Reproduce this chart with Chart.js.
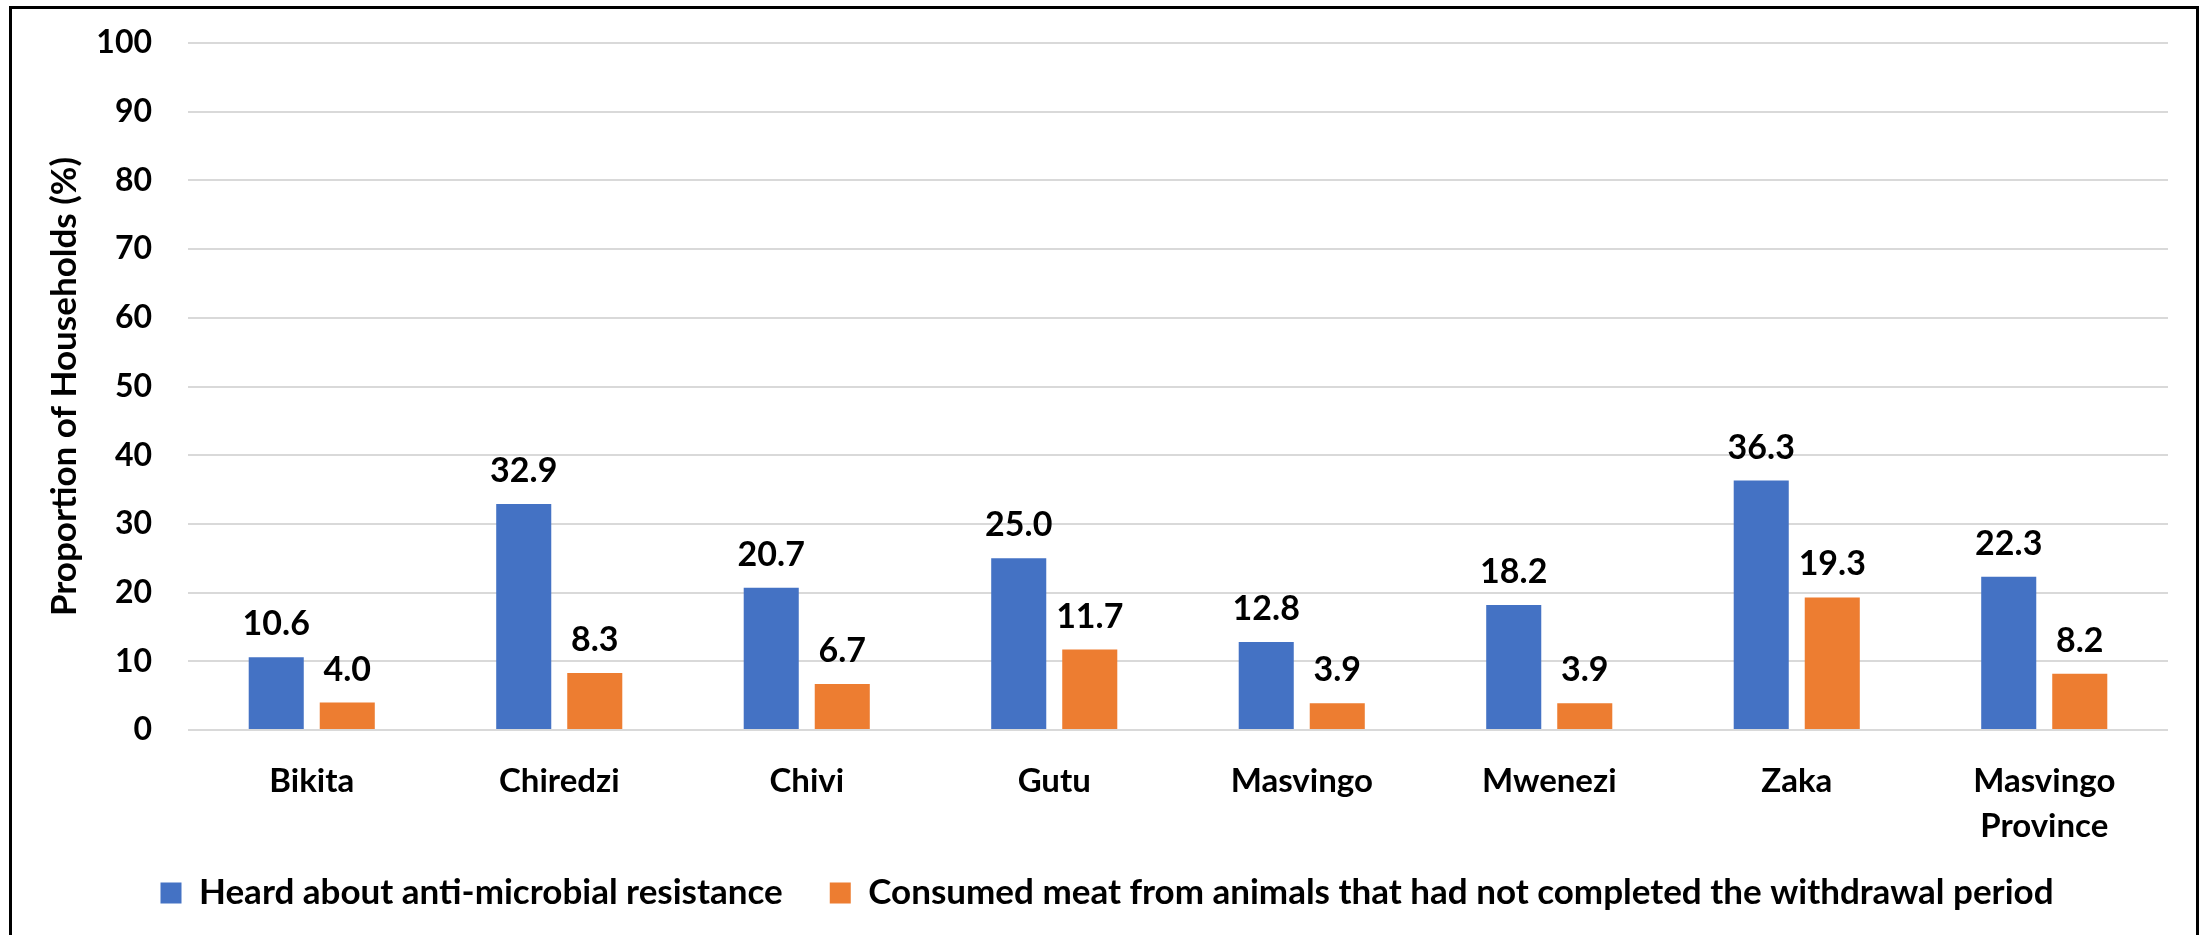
<!DOCTYPE html>
<html lang="en">
<head>
<meta charset="utf-8">
<title>Households by district</title>
<script src="https://cdn.jsdelivr.net/npm/chart.js@4.4.1/dist/chart.umd.min.js"></script>
<style>
  html, body { margin: 0; padding: 0; background: #fff; overflow: hidden; }
  #wrap { position: relative; width: 2210px; height: 935px; }
  #grafico { position: absolute; left: 0; top: 0; }
  #marco {
    position: absolute; left: 9px; top: 6px;
    width: 2184px; height: 960px;
    border: 3px solid #000; pointer-events: none;
  }
</style>
</head>
<body>
<div id="wrap">
  <canvas id="grafico" width="2210" height="935"></canvas>
  <div id="marco"></div>
</div>
<script>
const distritos = ['Bikita', 'Chiredzi', 'Chivi', 'Gutu', 'Masvingo', 'Mwenezi', 'Zaka', ['Masvingo', 'Province']];
const oyeronAMR = [10.6, 32.9, 20.7, 25.0, 12.8, 18.2, 36.3, 22.3];
const carneSinRetiro = [4.0, 8.3, 6.7, 11.7, 3.9, 3.9, 19.3, 8.2];
const ticksY = [0, 10, 20, 30, 40, 50, 60, 70, 80, 90, 100];

const AZUL = '#4472C4';
const NARANJA = '#ED7D31';
const REJILLA = '#D9D9D9';
const FUENTE = 'Lato, "Open Sans", sans-serif';

Chart.defaults.font.family = FUENTE;
Chart.defaults.font.weight = 'bold';
Chart.defaults.font.size = 32;
Chart.defaults.color = '#000';

// values printed above each bar
const etiquetasBarras = {
  id: 'etiquetasBarras',
  afterDatasetsDraw(chart) {
    const ctx = chart.ctx;
    ctx.save();
    ctx.font = 'bold 34px ' + FUENTE;
    ctx.fillStyle = '#000';
    ctx.textAlign = 'center';
    ctx.textBaseline = 'alphabetic';
    chart.data.datasets.forEach((ds, i) => {
      const meta = chart.getDatasetMeta(i);
      meta.data.forEach((bar, j) => {
        ctx.fillText(Number(ds.data[j]).toFixed(1), bar.x, bar.y - 22);
      });
    });
    ctx.restore();
  }
};

// the two-line category label hangs below the axis box, so let it draw past it
const sinRecorteX = {
  id: 'sinRecorteX',
  afterLayout(chart) {
    chart.scales.x.bottom = chart.height;
  }
};

new Chart(document.getElementById('grafico').getContext('2d'), {
  type: 'bar',
  data: {
    labels: distritos,
    datasets: [
      {
        label: 'Heard about anti-microbial resistance',
        data: oyeronAMR,
        backgroundColor: AZUL,
        categoryPercentage: 0.574,
        barPercentage: 0.775
      },
      {
        label: 'Consumed meat from animals that had not completed the withdrawal period',
        data: carneSinRetiro,
        backgroundColor: NARANJA,
        categoryPercentage: 0.574,
        barPercentage: 0.775
      }
    ]
  },
  options: {
    responsive: false,
    animation: false,
    layout: { padding: { left: 46, right: 42, top: 43, bottom: 14.5 } },
    plugins: {
      legend: {
        position: 'bottom',
        labels: {
          boxWidth: 21,
          boxHeight: 21,
          padding: 47,
          color: '#000',
          font: { size: 35, weight: 'bold' }
        }
      },
      tooltip: { enabled: false }
    },
    scales: {
      x: {
        grid: { display: false },
        border: { display: false },
        ticks: {
          padding: 21,
          maxRotation: 0,
          autoSkip: false,
          font: { size: 33, weight: 'bold', lineHeight: 1.36 }
        },
        afterFit: (s) => { s.height = 98.5; }
      },
      y: {
        min: 0,
        max: 100,
        afterBuildTicks: (s) => { s.ticks = ticksY.map(v => ({ value: v })); },
        grid: { color: REJILLA, lineWidth: 2, drawTicks: false },
        border: { display: false },
        ticks: { padding: 36, font: { size: 32, weight: 'bold' } },
        title: {
          display: true,
          text: 'Proportion of Households (%)',
          padding: { top: -2, bottom: 0 },
          font: { size: 35, weight: 'bold', lineHeight: 1.2 }
        },
        afterFit: (s) => {
          s.width = 188 - 46;
          s.paddingTop = 0;
          s.paddingBottom = 0;
        }
      }
    }
  },
  plugins: [etiquetasBarras, sinRecorteX]
});
</script>
</body>
</html>
